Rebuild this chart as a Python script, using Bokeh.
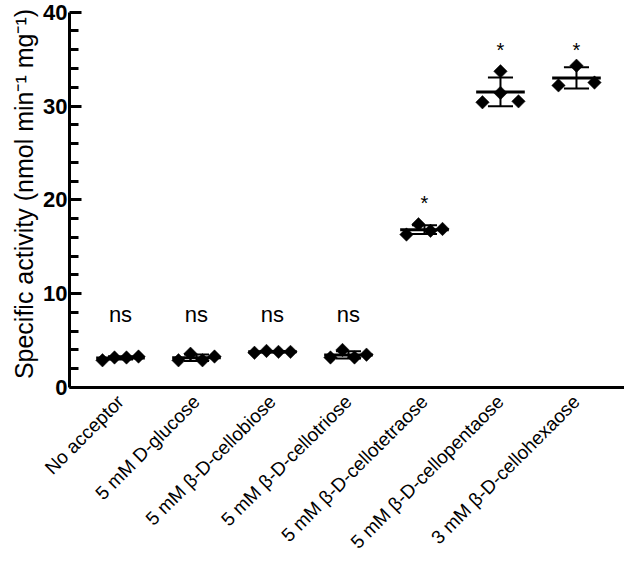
import numpy as np
from bokeh.plotting import figure
from bokeh.models import FixedTicker, Range1d
from bokeh.core.properties import value
from bokeh.embed import file_html
from bokeh.resources import INLINE

# ---- data ----
categories = [
    "No acceptor",
    "5 mM D-glucose",
    "5 mM β-D-cellobiose",
    "5 mM β-D-cellotriose",
    "5 mM β-D-cellotetraose",
    "5 mM β-D-cellopentaose",
    "3 mM β-D-cellohexaose",
]
no_acceptor = [2.9, 3.2, 3.2, 3.3]
glucose = [2.9, 3.6, 2.9, 3.3]
cellobiose = [3.7, 3.9, 3.8, 3.8]
cellotriose = [3.2, 4.0, 3.2, 3.5]
cellotetraose = [16.3, 17.4, 16.7, 16.9]
cellopentaose = [30.4, 33.7, 31.4, 30.5]
cellohexaose = [32.2, 34.3, 32.5]
significance = ["ns", "ns", "ns", "ns", "*", "*", "*"]
sig_label_y = [7.8, 7.8, 7.8, 7.8, 19.7, 36.0, 36.0]
y_major_ticks = [0, 10, 20, 30, 40]
y_minor_ticks = [2, 4, 6, 8, 12, 14, 16, 18, 22, 24, 26, 28, 32, 34, 36, 38]

groups = [no_acceptor, glucose, cellobiose, cellotriose,
          cellotetraose, cellopentaose, cellohexaose]

# ---- layout (column scatter slots) ----
slots = [
    [-1.5, -0.5, 0.5, 1.5],
    [-1.5, -0.5, 0.5, 1.5],
    [-1.5, -0.5, 0.5, 1.5],
    [-1.5, -0.5, 0.5, 1.5],
    [-1.5, -0.5, 0.5, 1.5],
    [-1.5, 0.0, 0.0, 1.5],
    [-1.5, 0.0, 1.5],
]
slot_w = 0.158

FONT = "Liberation Sans"

p = figure(width=624, height=562, output_backend="svg", toolbar_location=None,
           x_range=Range1d(-0.671, 6.632), y_range=Range1d(0, 41.25),
           min_border_left=69, min_border_right=0, min_border_top=0,
           min_border_bottom=160)
p.outline_line_color = None
p.grid.visible = False
p.background_fill_color = "white"

xs, ys = [], []
for i, (g, s) in enumerate(zip(groups, slots)):
    for v, o in zip(g, s):
        xs.append(i + o * slot_w)
        ys.append(v)

# means and SD
for i, g in enumerate(groups):
    arr = np.array(g)
    m = arr.mean()
    sd = arr.std(ddof=1)
    p.segment(x0=[i - 0.32], x1=[i + 0.32], y0=[m], y1=[m],
              line_color="black", line_width=3)
    p.segment(x0=[i], x1=[i], y0=[m - sd], y1=[m + sd],
              line_color="black", line_width=2)
    p.segment(x0=[i - 0.165, i - 0.165], x1=[i + 0.165, i + 0.165],
              y0=[m - sd, m + sd], y1=[m - sd, m + sd],
              line_color="black", line_width=2)

p.scatter(xs, ys, marker="square", size=9.5, angle=np.pi / 4,
          fill_color="black", line_color="black", line_width=0.5)

# significance labels
ns_idx = [i for i, t in enumerate(significance) if t == "ns"]
st_idx = [i for i, t in enumerate(significance) if t != "ns"]
p.text(x=ns_idx, y=[sig_label_y[i] for i in ns_idx],
       text=[significance[i] for i in ns_idx],
       text_align="center", text_baseline="middle",
       text_font=value(FONT), text_font_size="22px", text_color="black")
p.text(x=st_idx, y=[sig_label_y[i] for i in st_idx],
       text=[significance[i] for i in st_idx],
       text_align="center", text_baseline="middle",
       text_font=value(FONT), text_font_size="20px", text_color="black")

# x axis
xa = p.xaxis[0]
xa.ticker = FixedTicker(ticks=list(range(len(categories))))
xa.major_label_overrides = {i: c for i, c in enumerate(categories)}
xa.major_label_orientation = np.pi / 4
xa.major_label_text_font = FONT
xa.major_label_text_font_size = "19px"
xa.major_label_text_color = "black"
xa.major_label_standoff = 5
xa.major_tick_line_color = None
xa.minor_tick_line_color = None
xa.axis_line_width = 3
xa.axis_line_color = "black"

# y axis
ya = p.yaxis[0]
ya.ticker = FixedTicker(ticks=y_major_ticks, minor_ticks=y_minor_ticks)
ya.bounds = (0, 40)
ya.axis_label = "Specific activity (nmol min⁻¹ mg⁻¹)"
ya.axis_label_text_font = FONT
ya.axis_label_text_font_style = "normal"
ya.axis_label_text_font_size = "25px"
ya.axis_label_text_color = "black"
ya.axis_label_standoff = 2
ya.major_label_text_font = FONT
ya.major_label_text_font_style = "bold"
ya.major_label_text_font_size = "22px"
ya.major_label_text_color = "black"
ya.major_label_standoff = 2
ya.major_tick_out = 0
ya.major_tick_in = 12
ya.minor_tick_out = 0
ya.minor_tick_in = 9
ya.major_tick_line_width = 3
ya.minor_tick_line_width = 3
ya.major_tick_line_color = "black"
ya.minor_tick_line_color = "black"
ya.axis_line_width = 3
ya.axis_line_color = "black"

open("out.html", "w").write(file_html(p, INLINE))
